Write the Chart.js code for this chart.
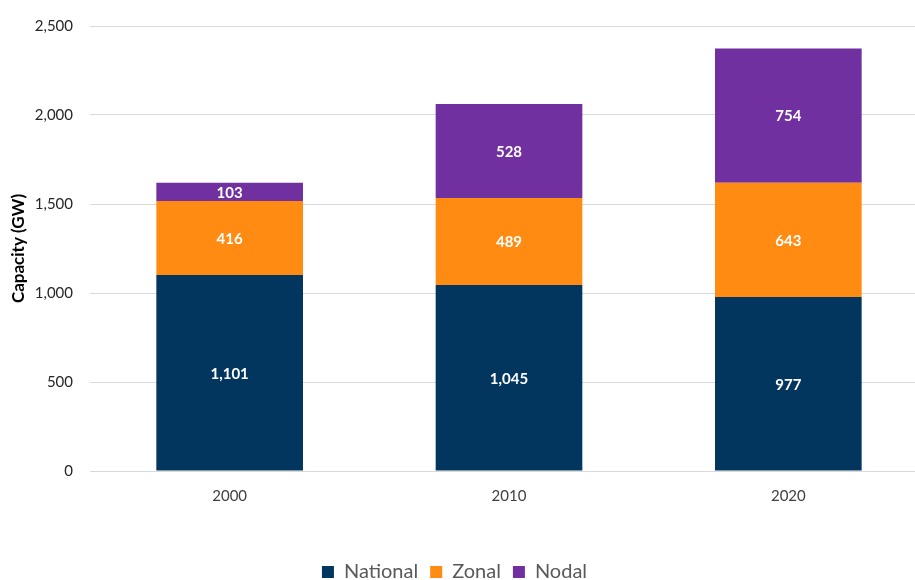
<!DOCTYPE html>
<html>
<head>
<meta charset="utf-8">
<script src="https://cdn.jsdelivr.net/npm/chart.js@4/dist/chart.umd.min.js"></script>
<style>
  html, body { margin: 0; padding: 0; background: #fff; overflow: hidden; }
  #wrap { width: 928px; height: 592px; }
</style>
</head>
<body>
<div id="wrap"><canvas id="canvas"></canvas></div>
<script>
var years = ["2000", "2010", "2020"]
var national = [1101, 1045, 977]
var zonal = [416, 489, 643]
var nodal = [103, 528, 754]
var yTicks = [0, 500, 1000, 1500, 2000, 2500]

var fontName = "Lato, 'Liberation Sans', sans-serif"

// draws the value in the middle of each stacked segment
var segmentLabels = {
    id: 'segmentLabels',
    afterDatasetsDraw: function(chart) {
        var ctx = chart.ctx
        ctx.save()
        ctx.fillStyle = '#ffffff'
        ctx.font = 'bold 15px ' + fontName
        ctx.textAlign = 'center'
        ctx.textBaseline = 'middle'
        chart.data.datasets.forEach(function(ds, i) {
            var meta = chart.getDatasetMeta(i)
            meta.data.forEach(function(bar, j) {
                var mid = (bar.y + bar.base) / 2
                ctx.fillText(ds.data[j].toLocaleString('en-US'), bar.x, mid + 1)
            })
        })
        ctx.restore()
    }
}

// the canvas is a bit wider than the window, pull the legend back to the visible centre
var legendShift = {
    id: 'legendShift',
    afterLayout: function(chart) {
        chart.legend.left -= 9.5
        chart.legend.right -= 9.5
    }
}

var ctx = document.getElementById("canvas").getContext("2d")

new Chart(ctx, {
    type: 'bar',
    data: {
        labels: years,
        datasets: [
            { label: 'National', data: national, backgroundColor: '#02365f' },
            { label: 'Zonal', data: zonal, backgroundColor: '#ff8b12' },
            { label: 'Nodal', data: nodal, backgroundColor: '#7030a0' }
        ]
    },
    options: {
        responsive: true,
        maintainAspectRatio: false,
        animation: false,
        layout: { padding: { top: 10, right: 0, bottom: 0, left: 0 } },
        datasets: { bar: { barPercentage: 0.525, categoryPercentage: 1.0 } },
        plugins: {
            legend: {
                position: 'bottom',
                labels: {
                    color: '#595959',
                    font: { family: fontName, size: 20 },
                    boxWidth: 12,
                    boxHeight: 12,
                    padding: 12
                }
            },
            tooltip: { enabled: false }
        },
        scales: {
            x: {
                stacked: true,
                grid: { display: false },
                border: { color: '#d9d9d9', width: 1 },
                ticks: { color: '#404040', font: { family: fontName, size: 15 }, padding: 8 },
                afterFit: function(axis) { axis.height = 79 }
            },
            y: {
                stacked: true,
                min: 0,
                max: 2500,
                afterBuildTicks: function(axis) {
                    axis.ticks = yTicks.map(function(v) { return { value: v } })
                },
                afterFit: function(axis) { axis.width = 90 },
                grid: { color: '#d9d9d9', drawTicks: false },
                border: { display: false },
                ticks: {
                    color: '#262626',
                    font: { family: fontName, size: 15 },
                    padding: 17,
                    callback: function(v) { return v.toLocaleString('en-US') }
                },
                title: {
                    display: true,
                    text: 'Capacity (GW)',
                    color: '#000000',
                    font: { family: fontName, size: 17, weight: 'bold' },
                    padding: { top: 8, bottom: 0 }
                }
            }
        }
    },
    plugins: [segmentLabels, legendShift]
})
</script>
</body>
</html>
